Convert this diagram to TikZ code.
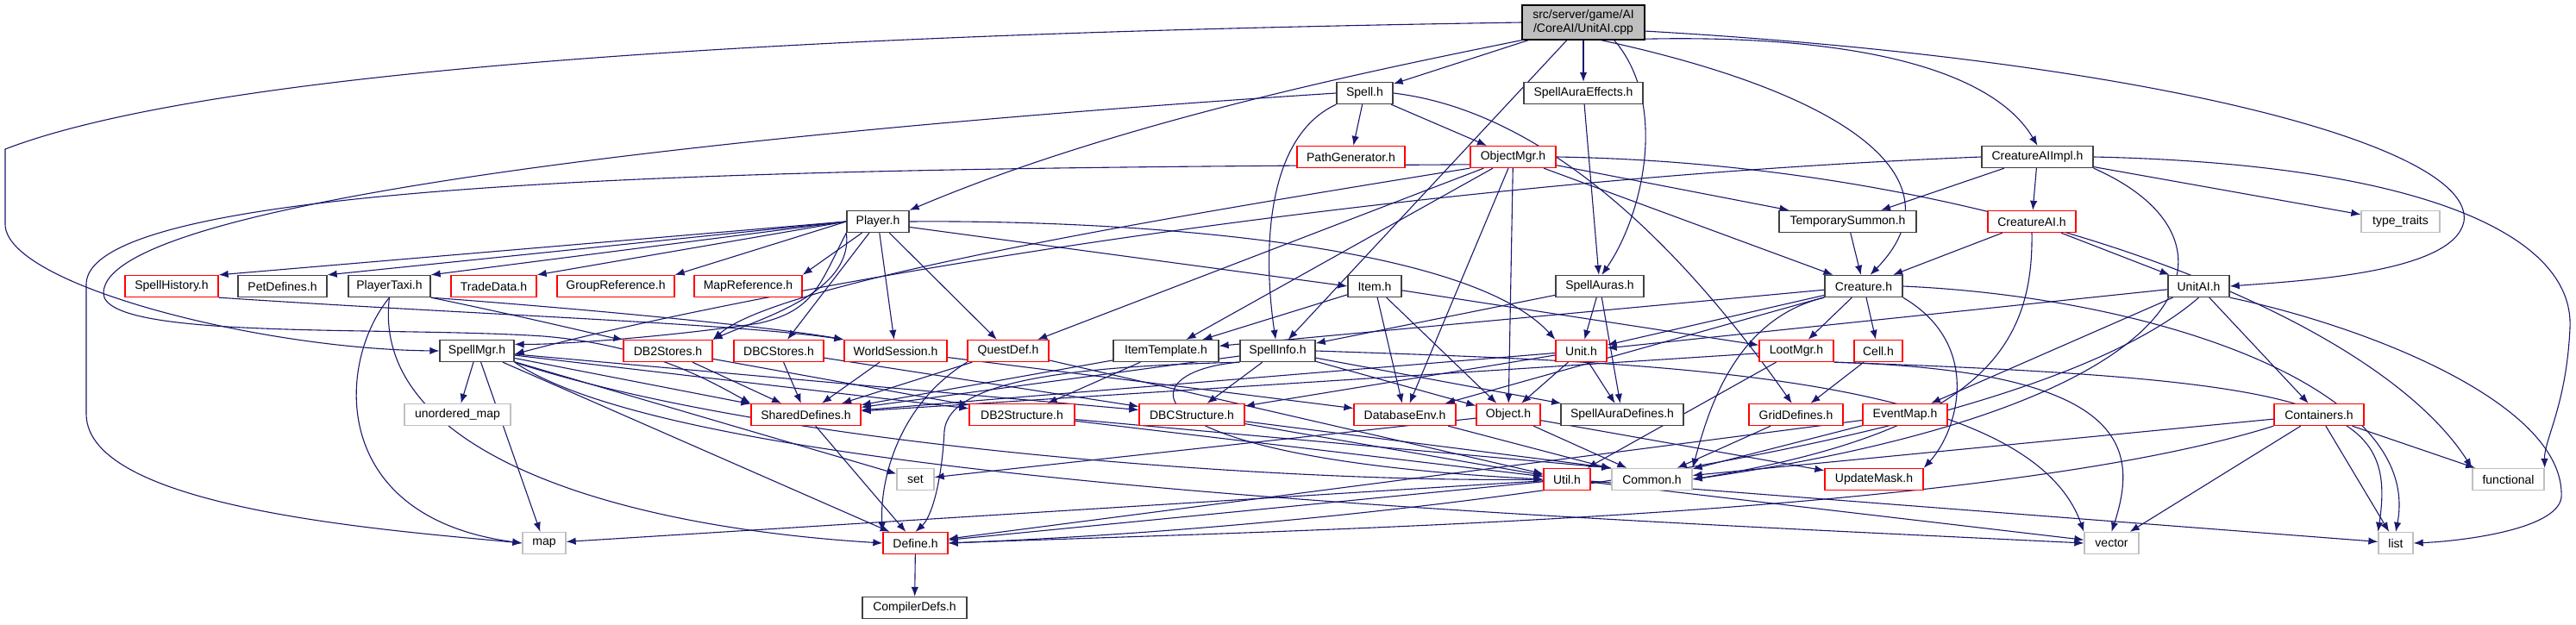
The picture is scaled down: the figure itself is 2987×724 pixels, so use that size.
\documentclass[tikz,border=0pt]{standalone}
\usepackage{fontspec}
\setmainfont{Liberation Sans}
\usetikzlibrary{arrows.meta}
\pgfdeclarelayer{back}
\pgfdeclarelayer{bg}
\pgfsetlayers{back,bg,main}
\definecolor{edgec}{HTML}{191970}
\definecolor{gbord}{HTML}{BFBFBF}
\definecolor{dbord}{HTML}{404040}
\begin{document}
\begin{tikzpicture}[x=1pt,y=-1pt,font=\fontsize{14}{16}\selectfont,
  nb/.style={draw=#1, fill=white, line width=1.3pt, inner sep=0pt, minimum height=25pt},
  blk/.style={nb=dbord},
  rd/.style={nb=red},
  gr/.style={nb=gbord},
  e/.style={draw=edgec, line width=1.1pt, -{Latex[length=11pt,width=8.5pt]}}]
\begin{pgfonlayer}{back}
\fill[white] (0,0) rectangle (2987,724);
\end{pgfonlayer}
\useasboundingbox (0,0) rectangle (2987,724);
% nodes
\node[nb=black, fill=gbord, minimum width=142pt, minimum height=40pt, align=center] (root) at (1836,26) {src/server/game/AI\\/CoreAI/UnitAI.cpp};
\node[blk, minimum width=65pt] (spell) at (1582.5,108) {Spell.h};
\node[blk, minimum width=138pt] (sae) at (1836,108) {SpellAuraEffects.h};
\node[rd, minimum width=125pt] (pathgen) at (1566.5,182) {PathGenerator.h};
\node[rd, minimum width=99pt] (objmgr) at (1754.5,182) {ObjectMgr.h};
\node[blk, minimum width=129pt] (caiimpl) at (2362.5,182) {CreatureAIImpl.h};
\node[blk, minimum width=72pt] (player) at (1018,257) {Player.h};
\node[blk, minimum width=159pt] (tempsum) at (2142.5,257) {TemporarySummon.h};
\node[rd, minimum width=102pt] (cai) at (2356,257) {CreatureAI.h};
\node[gr, minimum width=91pt] (typetraits) at (2783.5,257) {type\_traits};
\node[rd, minimum width=108pt] (spellhist) at (199,332) {SpellHistory.h};
\node[blk, minimum width=103pt] (petdef) at (327.5,332) {PetDefines.h};
\node[blk, minimum width=95pt] (ptaxi) at (451.5,332) {PlayerTaxi.h};
\node[rd, minimum width=99pt] (trade) at (572.5,332) {TradeData.h};
\node[rd, minimum width=136pt] (groupref) at (714,332) {GroupReference.h};
\node[rd, minimum width=125pt] (mapref) at (867.5,332) {MapReference.h};
\node[blk, minimum width=62pt] (item) at (1594,332) {Item.h};
\node[blk, minimum width=102pt] (auras) at (1855,332) {SpellAuras.h};
\node[blk, minimum width=90pt] (creature) at (2161,332) {Creature.h};
\node[blk, minimum width=71pt] (unitai) at (2549.5,332) {UnitAI.h};
\node[blk, minimum width=86pt] (spellmgr) at (553,407) {SpellMgr.h};
\node[rd, minimum width=103pt] (db2stores) at (774.5,407) {DB2Stores.h};
\node[rd, minimum width=104pt] (dbcstores) at (903,407) {DBCStores.h};
\node[rd, minimum width=119pt] (worldsess) at (1038.5,407) {WorldSession.h};
\node[rd, minimum width=94pt] (questdef) at (1169,407) {QuestDef.h};
\node[blk, minimum width=122pt] (itemtpl) at (1352,407) {ItemTemplate.h};
\node[blk, minimum width=87pt] (spellinfo) at (1481.5,407) {SpellInfo.h};
\node[rd, minimum width=59pt] (unit) at (1833.5,407) {Unit.h};
\node[rd, minimum width=86pt] (lootmgr) at (2083,407) {LootMgr.h};
\node[rd, minimum width=56pt] (cell) at (2178,407) {Cell.h};
\node[gr, minimum width=123pt] (umap) at (530.5,481) {unordered\_map};
\node[rd, minimum width=127pt] (shared) at (934.5,481) {SharedDefines.h};
\node[rd, minimum width=122pt] (db2struct) at (1185,481) {DB2Structure.h};
\node[rd, minimum width=122pt] (dbcstruct) at (1382,481) {DBCStructure.h};
\node[rd, minimum width=118pt] (dbenv) at (1629,481) {DatabaseEnv.h};
\node[rd, minimum width=74pt] (object) at (1749,481) {Object.h};
\node[blk, minimum width=142pt] (sadef) at (1881,481) {SpellAuraDefines.h};
\node[rd, minimum width=109pt] (grid) at (2082.5,481) {GridDefines.h};
\node[rd, minimum width=98pt] (eventmap) at (2209,481) {EventMap.h};
\node[rd, minimum width=104pt] (containers) at (2689,481) {Containers.h};
\node[gr, minimum width=43pt] (set) at (1061.5,556) {set};
\node[rd, minimum width=54pt] (util) at (1817,556) {Util.h};
\node[gr, minimum width=93pt] (common) at (1915.5,556) {Common.h};
\node[rd, minimum width=114pt] (updmask) at (2173,556) {UpdateMask.h};
\node[gr, minimum width=83pt] (functional) at (2908.5,556) {functional};
\node[gr, minimum width=50pt] (map) at (631,630) {map};
\node[rd, minimum width=75pt] (define) at (1061.5,630) {Define.h};
\node[gr, minimum width=63pt] (vector) at (2448.5,630) {vector};
\node[gr, minimum width=40pt] (list) at (2778,630) {list};
\node[blk, minimum width=121pt] (compdefs) at (1060.5,705) {CompilerDefs.h};

\begin{pgfonlayer}{bg}
% root
\draw[e] (root.west) .. controls (1200,35) and (300,60) .. (6,173) -- (6,260) .. controls (6,330) and (300,405) .. (spellmgr.west);
\draw[e] (root.south west) .. controls (1600,80) and (1300,140) .. (player.north east);
\draw[e] (root) -- (spell);
\draw[e] (root) -- (spellinfo);
\draw[e] (root) -- (sae);
\draw[e] (root.-30) .. controls (1935,120) and (1905,250) .. (auras.80);
\draw[e] (root.-15) .. controls (2150,40) and (2310,80) .. (caiimpl.north);
\draw[e] (root.-8) .. controls (2500,70) and (2870,170) .. (2857,257) .. controls (2845,315) and (2680,325) .. (unitai.east);
\draw[e] (root.-45) .. controls (2150,110) and (2275,210) .. (creature.60);
% spell
\draw[e] (spell) -- (pathgen);
\draw[e] (spell) -- (objmgr);
\draw[e] (spell.south west) .. controls (1465,160) and (1465,300) .. (spellinfo.100);
\draw[e] (spell.east) .. controls (1800,130) and (1960,300) .. (grid.110);
\draw[e] (spell.west) .. controls (900,150) and (120,230) .. (120,340) .. controls (120,395) and (450,378) .. (630,390) .. controls (750,400) and (820,440) .. (shared.north west);
\draw[e] (sae) -- (auras);
% objmgr
\draw[e] (objmgr.-170) .. controls (1000,195) and (100,200) .. (100,330) -- (100,480) .. controls (100,590) and (450,615) .. (map.west);
\draw[e] (objmgr.south west) .. controls (1300,260) and (900,330) .. (db2stores.north east);
\draw[e] (objmgr) -- (questdef);
\draw[e] (objmgr) -- (itemtpl);
\draw[e] (objmgr) -- (dbenv);
\draw[e] (objmgr) -- (object);
\draw[e] (objmgr) -- (tempsum);
\draw[e] (objmgr) -- (creature);
\draw[e] (objmgr.east) .. controls (2300,190) and (2750,360) .. (functional.north west);
% caiimpl
\draw[e] (caiimpl) -- (tempsum);
\draw[e] (caiimpl) -- (cai);
\draw[e] (caiimpl) -- (typetraits);
\draw[e] (caiimpl.east) .. controls (2800,190) and (2985,270) .. (2980,380) .. controls (2976,470) and (2950,510) .. (functional.north east);
\draw[e] (caiimpl.south east) .. controls (2620,280) and (2560,470) .. (common.east);
\draw[e] (caiimpl.west) .. controls (1600,210) and (900,330) .. (spellmgr.-5);
% player
\draw[e] (player.west) -- (spellhist.north east);
\draw[e] (player.west) -- (petdef.north east);
\draw[e] (player.west) -- (ptaxi.north east);
\draw[e] (player.west) -- (trade.north east);
\draw[e] (player.west) -- (groupref.north east);
\draw[e] (player) -- (mapref.north east);
\draw[e] (player.south west) .. controls (950,330) and (945,360) .. (880,375) .. controls (780,390) and (650,400) .. (spellmgr.10);
\draw[e] (player.south west) .. controls (990,340) and (880,370) .. (db2stores.north east);
\draw[e] (player) -- (dbcstores);
\draw[e] (player) -- (worldsess);
\draw[e] (player) -- (questdef);
\draw[e] (player.-10) -- (item.west);
\draw[e] (player.east) .. controls (1300,255) and (1700,280) .. (unit.north west);
% level 3
\draw[e] (tempsum) -- (creature);
\draw[e] (cai) -- (creature);
\draw[e] (cai) -- (unitai);
\draw[e] (cai.south) .. controls (2358,400) and (2300,500) .. (common.east);
\draw[e] (creature) -- (unit);
\draw[e] (creature) -- (lootmgr);
\draw[e] (creature) -- (cell);
\draw[e] (creature) -- (itemtpl);
\draw[e] (creature) -- (dbenv);
\draw[e] (creature.south west) .. controls (2010,370) and (1980,480) .. (common.north east);
\draw[e] (creature.south east) .. controls (2300,400) and (2270,500) .. (updmask.north east);
\draw[e] (creature.east) .. controls (2500,345) and (2810,450) .. (list.north);
\draw[e] (unitai) -- (unit);
\draw[e] (unitai) -- (eventmap);
\draw[e] (unitai) -- (containers);
\draw[e] (unitai.south) .. controls (2350,520) and (1600,610) .. (define.east);
\draw[e] (unitai.south east) .. controls (2750,380) and (2975,470) .. (2970,577) .. controls (2965,615) and (2850,628) .. (list.east);
\draw[e] (spellhist.south east) .. controls (550,365) and (850,375) .. (worldsess.north west);
\draw[e] (ptaxi.south east) .. controls (620,370) and (700,390) .. (db2stores.north west);
\draw[e] (ptaxi.south east) .. controls (700,360) and (900,380) .. (worldsess.north west);
\draw[e] (ptaxi.south) .. controls (390,420) and (380,600) .. (map.west);
\draw[e] (ptaxi.south) .. controls (430,520) and (700,610) .. (define.west);
\draw[e] (item) -- (itemtpl);
\draw[e] (item) -- (lootmgr);
\draw[e] (item) -- (dbenv);
\draw[e] (item) -- (object);
\draw[e] (auras) -- (unit);
\draw[e] (auras) -- (sadef);
\draw[e] (auras) -- (spellinfo);
% level 4
\draw[e] (spellmgr) -- (umap);
\draw[e] (spellmgr) -- (map);
\draw[e] (spellmgr) -- (shared);
\draw[e] (spellmgr) -- (db2struct);
\draw[e] (spellmgr) -- (dbcstruct);
\draw[e] (spellmgr) -- (set);
\draw[e] (spellmgr.south east) .. controls (900,520) and (1500,560) .. (util.west);
\draw[e] (spellmgr) -- (define);
\draw[e] (spellmgr.south east) .. controls (800,560) and (1800,600) .. (vector.west);
\draw[e] (db2stores) -- (shared);
\draw[e] (db2stores) -- (db2struct);
\draw[e] (dbcstores) -- (shared);
\draw[e] (dbcstores) -- (dbcstruct);
\draw[e] (worldsess) -- (shared);
\draw[e] (worldsess) -- (dbenv);
\draw[e] (questdef) -- (shared);
\draw[e] (questdef.south west) .. controls (1040,470) and (1020,560) .. (define.north west);
\draw[e] (questdef) -- (util);
\draw[e] (itemtpl) -- (shared);
\draw[e] (itemtpl) -- (db2struct);
\draw[e] (spellinfo) -- (shared);
\draw[e] (spellinfo) -- (dbcstruct);
\draw[e] (spellinfo) -- (object);
\draw[e] (spellinfo) -- (sadef);
\draw[e] (spellinfo.south west) .. controls (1250,425) and (1100,440) .. (1095,500) .. controls (1092,560) and (1080,600) .. (define.north);
\draw[e] (spellinfo.south west) .. controls (1310,430) and (1290,530) .. (util.west);
\draw[e] (spellinfo.east) .. controls (1900,420) and (2350,430) .. (vector.north west);
\draw[e] (unit) -- (object);
\draw[e] (unit) -- (sadef);
\draw[e] (unit) -- (dbcstruct);
\draw[e] (unit) -- (shared);
\draw[e] (lootmgr) -- (util);
\draw[e] (lootmgr.south east) .. controls (2470,430) and (2480,520) .. (vector.north);
\draw[e] (lootmgr.south east) .. controls (2700,440) and (2780,470) .. (list.north west);
\draw[e] (lootmgr) -- (shared);
\draw[e] (cell) -- (grid);
% level 5
\draw[e] (shared) -- (define);
\draw[e] (db2struct) -- (util);
\draw[e] (db2struct) -- (common.north west);
\draw[e] (dbcstruct) -- (util);
\draw[e] (dbcstruct) -- (common.north west);
\draw[e] (dbenv) -- (common);
\draw[e] (object) -- (set);
\draw[e] (object) -- (common);
\draw[e] (object) -- (updmask);
\draw[e] (grid) -- (common);
\draw[e] (eventmap) -- (common);
\draw[e] (eventmap) -- (define);
\draw[e] (containers) -- (common);
\draw[e] (containers.south west) .. controls (2300,600) and (1500,615) .. (define.east);
\draw[e] (containers) -- (vector);
\draw[e] (containers) -- (list);
\draw[e] (containers) -- (functional);
\draw[e] (util) -- (map);
\draw[e] (util) -- (define);
\draw[e] (util) -- (vector);
\draw[e] (util) -- (list);
\draw[e] (define) -- (compdefs);
\end{pgfonlayer}
\end{tikzpicture}
\end{document}
